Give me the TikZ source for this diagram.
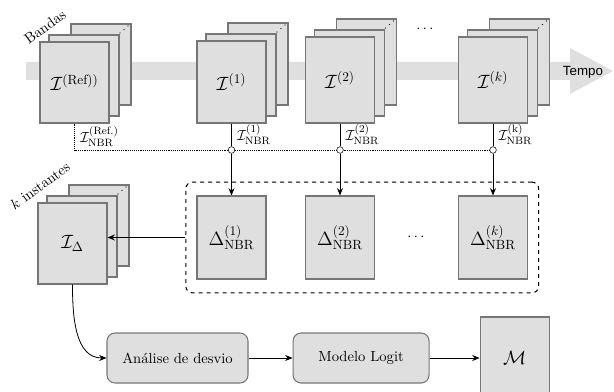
\documentclass[11pt,tikz,border=0pt]{standalone}
\usepackage{fontspec}
\setsansfont{Liberation Sans}
\usetikzlibrary{arrows.meta, positioning, fit, calc}
\definecolor{boxgray}{RGB}{223,223,223}
\definecolor{edgegray}{RGB}{118,118,118}

\begin{document}
\begin{tikzpicture}[
  x=0.75pt, y=-0.75pt,
  bandbox/.style   = {rectangle, draw=edgegray, fill=boxgray, line width=0.8pt,
                      minimum width=51.75pt, inner sep=0pt, font=\Large},
  backsheet/.style = {draw=edgegray, fill=boxgray, line width=0.8pt},
  proc/.style      = {rectangle, rounded corners=6pt, draw=edgegray, fill=boxgray,
                      line width=0.8pt, minimum height=37.5pt},
  junc/.style      = {circle, draw, fill=white, inner sep=0pt, minimum size=5pt},
  arr/.style       = {-{Stealth[length=5.5pt, width=4.5pt]}, semithick},
  lbl/.style       = {right=3pt, inner sep=1pt}
]
\useasboundingbox (0,0) rectangle (614,392);

% time axis
\fill[boxgray] (26,62) -- (570,62) -- (570,48) -- (613,71) -- (570,94) -- (570,80) -- (26,80) -- cycle;
\node[font=\sffamily\small] (tempo) at (583,72) {Tempo};
\node[rotate=36, inner sep=1pt] (bandas) at (45,27) {Bandas};
\node[rotate=36, inner sep=1pt] (kinst)  at (40,186) {$k$ instantes};

% image stacks
\foreach \nm/\cx/\ty/\by/\tx in {ref/74.5/42/123/{\mathcal{I}^{(\mathrm{Ref}))}},
                                 t1/231.5/41/123/{\mathcal{I}^{(1)}},
                                 t2/340/37/123/{\mathcal{I}^{(2)}},
                                 tk/493/37/123/{\mathcal{I}^{(k)}},
                                 idelta/72.5/203/284/{\mathcal{I}_{\Delta}}} {
  \draw[backsheet] (\cx-3.5,\ty-18) rectangle (\cx+56.5,\by-18);
  \foreach \d in {0,1,2}
    \fill (\cx+53.5-4*\d, \ty-16+3.5*\d) circle (0.5pt);
  \draw[backsheet] (\cx-25.5,\ty-7) rectangle (\cx+44.5,\by-7);
  \pgfmathsetmacro\hgt{(\by-\ty)*0.75}
  \node[bandbox, minimum height=\hgt pt] (\nm) at (\cx,{(\ty+\by)/2}) {$\tx$};
}
\node (tdots) at (425,29) {$\cdots$};

% differences
\node[bandbox, minimum height=62.25pt] (d1) at (231.5,237.5) {$\Delta^{(1)}_{\mathrm{NBR}}$};
\node[bandbox, minimum height=62.25pt] (d2) at (340,237.5)   {$\Delta^{(2)}_{\mathrm{NBR}}$};
\node (ddots) at (416,237.5) {$\cdots$};
\node[bandbox, minimum height=62.25pt] (dk) at (493,237.5)   {$\Delta^{(k)}_{\mathrm{NBR}}$};
\node[draw, dashed, rounded corners=5pt, line width=0.8pt,
      inner xsep=8pt, inner ysep=10pt, fit=(d1)(dk)] (dbox) {};

\node[junc] (j1) at (231.5,150) {};
\node[junc] (j2) at (340,150)   {};
\node[junc] (jk) at (493,150)   {};

% model chain
\node[proc, minimum width=105.75pt] (ana) at (177.5,358) {Análise de desvio};
\node[proc, minimum width=102pt, right=33pt of ana] (logit) {Modelo Logit};
\node[bandbox, minimum height=61.5pt, right=37.5pt of logit] (model) {$\mathcal{M}$};

\draw[densely dotted] (ref) |- (j1) node[pos=0.25, lbl] {$\mathcal{I}^{(\mathrm{Ref.})}_{\mathrm{NBR}}$};
\draw[densely dotted] (j1) -- (j2);
\draw[densely dotted] (j2) -- (jk);
\draw (t1) -- (j1) node[midway, lbl] {$\mathcal{I}^{(1)}_{\mathrm{NBR}}$};
\draw (t2) -- (j2) node[midway, lbl] {$\mathcal{I}^{(2)}_{\mathrm{NBR}}$};
\draw (tk) -- (jk) node[midway, lbl] {$\mathcal{I}^{(\mathrm{k})}_{\mathrm{NBR}}$};
\draw[arr] (j1) -- (d1);
\draw[arr] (j2) -- (d2);
\draw[arr] (jk) -- (dk);
\draw[arr] (dbox.west) -- (dbox.west -| idelta.east);
\draw[arr] (idelta) to[out=-90, in=180] (ana);
\draw[arr] (ana) -- (logit);
\draw[arr] (logit) -- (model);
\end{tikzpicture}
\end{document}
